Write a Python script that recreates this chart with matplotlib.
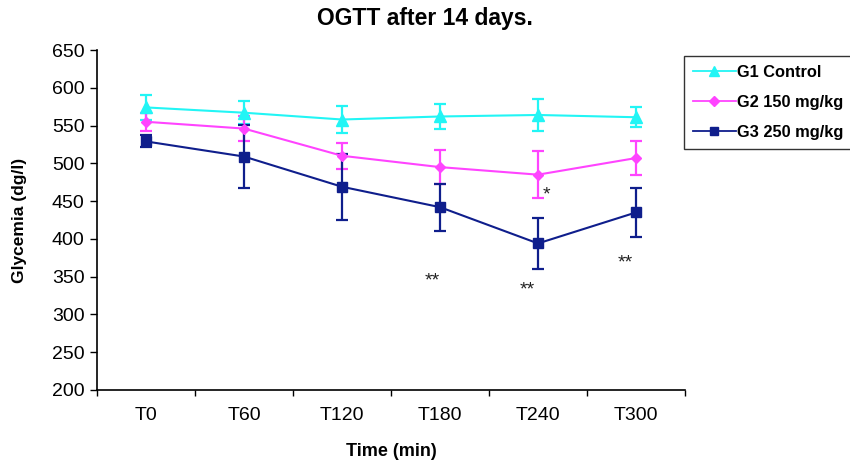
import matplotlib
matplotlib.use("Agg")
import matplotlib.pyplot as plt
from matplotlib.lines import Line2D
import numpy as np

plt.rcParams['font.family'] = ['Liberation Sans', 'DejaVu Sans']

categories = ["T0", "T60", "T120", "T180", "T240", "T300"]
g1_mean = [574, 567, 558, 562, 564, 561]
g1_err = [17, 15, 18, 17, 21, 13]
g2_mean = [555, 546, 510, 495, 485, 507]
g2_err = [12, 16, 17, 22, 31, 23]
g3_mean = [529, 509, 469, 442, 394, 435]
g3_err = [8, 42, 44, 31, 34, 33]
series_labels = ["G1 Control", "G2 150 mg/kg", "G3 250 mg/kg"]
yticks = [200, 250, 300, 350, 400, 450, 500, 550, 600, 650]

# significance annotations: (x position, y value, text)
annot_x = [2.92, 3.89, 4.89, 4.09]
annot_y = [344, 332, 368, 458]
annot_txt = ["**", "**", "**", "*"]

fig = plt.figure(figsize=(8.5, 4.61), dpi=100)
ax = fig.add_axes([97/850, 1-390/461, (685-97)/850, (390-50)/461])

x = np.arange(len(categories))
styles = [
    dict(color="#22F5F5", marker="^", ms=8),
    dict(color="#FF44FF", marker="D", ms=5.5),
    dict(color="#0F1E8C", marker="s", ms=7.5),
]
handles = []
for mean, err, lab, st in zip([g1_mean, g2_mean, g3_mean], [g1_err, g2_err, g3_err], series_labels, styles):
    ax.errorbar(x, mean, yerr=err, color=st["color"], marker=st["marker"], ms=st["ms"],
                lw=1.5, elinewidth=1.6, capsize=4, capthick=1.6, label=lab)
    handles.append(Line2D([], [], color=st["color"], marker=st["marker"], ms=st["ms"] * 0.85, lw=1.3))

for xa, ya, t in zip(annot_x, annot_y, annot_txt):
    ax.text(xa, ya, t, ha="center", va="center", fontsize=14, color="#222222")

ax.set_xlim(-0.5, len(categories) - 0.5)
ax.set_ylim(200, 650)
ax.set_yticks(yticks)
ax.set_yticklabels([str(v) for v in yticks], fontsize=14)
ax.set_xticks(x)
ax.set_xticklabels(categories, fontsize=14)
ax.tick_params(axis="x", which="major", length=0, pad=12)
ax.set_xticks(np.arange(-0.5, len(categories), 1.0), minor=True)
ax.tick_params(axis="x", which="minor", length=4, width=1, direction="out")
ax.tick_params(axis="y", length=5, width=1, direction="out", pad=4)
for s in ["top", "right"]:
    ax.spines[s].set_visible(False)
for s in ["left", "bottom"]:
    ax.spines[s].set_linewidth(1.2)

ax.set_xlabel("Time (min)", fontsize=13, fontweight="bold", labelpad=14)
ax.set_ylabel("Glycemia (dg/l)", fontsize=12.5, fontweight="bold", labelpad=18)
fig.text(0.5, 1-19/461, "OGTT after 14 days.", ha="center", va="center", fontsize=16.5, fontweight="bold")

leg = fig.legend(handles=handles, labels=series_labels, loc="upper left",
                 bbox_to_anchor=(684/850, 1-56/461), frameon=True, fancybox=False,
                 prop=dict(weight="bold", size=11.8), handlelength=2.6, borderpad=0.55,
                 labelspacing=0.9, handletextpad=0.1, borderaxespad=0)
leg.get_frame().set_edgecolor("black")
leg.get_frame().set_linewidth(1.0)

fig.savefig("out.png", dpi=100)
